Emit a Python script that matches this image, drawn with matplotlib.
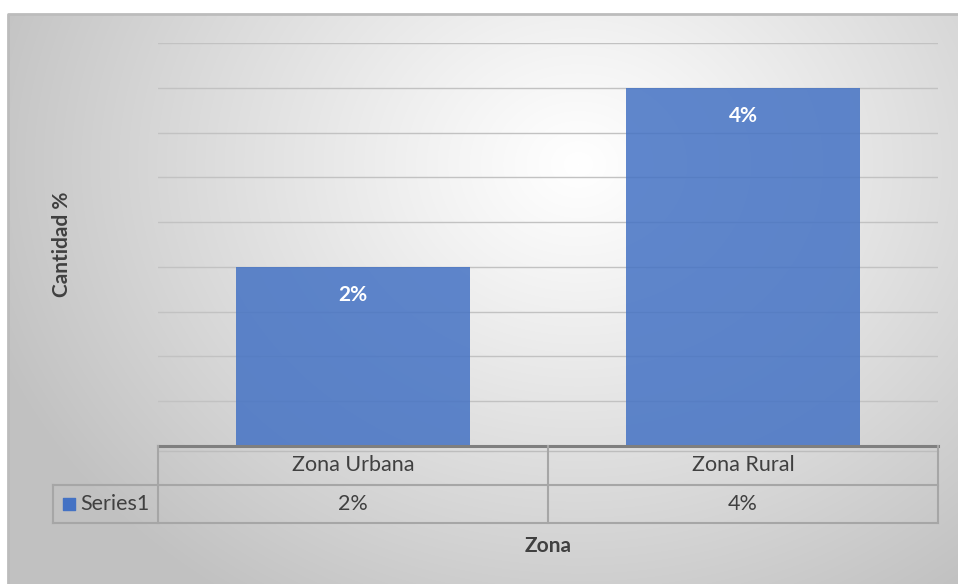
import matplotlib.pyplot as plt
import numpy as np

plt.rcParams['font.family'] = ['Lato', 'DejaVu Sans']

categories = ['Zona Urbana', 'Zona Rural']
values = [2, 4]  # percent
series_name = 'Series1'
bar_color = '#4472C4'

W, H = 958, 584
fig = plt.figure(figsize=(W / 100, H / 100), dpi=100)
fig.patch.set_facecolor('white')


def px(x0, y0, x1, y1):
    # pixel box (top-left origin) -> figure rect
    return [x0 / W, 1 - y1 / H, (x1 - x0) / W, (y1 - y0) / H]


# chart area with radial grey gradient
bg = fig.add_axes(px(8, 14, W, H))
bg.set_axis_off()
yy, xx = np.mgrid[0:H - 14, 0:W - 8]
d = np.sqrt(((xx - 570) / 620.0) ** 2 + ((yy - 150) / 520.0) ** 2)
shade = 1.0 - 0.24 * np.clip(d, 0, 1) ** 1.1
img = np.dstack([shade, shade, shade])
bg.imshow(img, aspect='auto', extent=(0, 1, 0, 1), interpolation='bilinear')
bg.set_xlim(0, 1)
bg.set_ylim(0, 1)
bg.plot([0, 0, 1], [0, 1, 1], color='#bcbcbc', lw=2, transform=bg.transAxes, clip_on=False)

# bar plot
ax = fig.add_axes(px(158, 43, 938, 446))
ax.patch.set_alpha(0)
x = np.arange(len(categories))
ax.set_xlim(-0.5, len(categories) - 0.5)
ax.set_ylim(0, 4.5)
ax.set_yticks(np.arange(0.5, 4.6, 0.5))
ax.yaxis.grid(True, color='#c2c2c2', lw=1)
ax.set_axisbelow(True)
ax.tick_params(left=False, bottom=False, labelleft=False, labelbottom=False)
for s in ax.spines.values():
    s.set_visible(False)
ax.bar(x, values, width=0.6, color=bar_color, alpha=0.85, zorder=2)
for xi, v in zip(x, values):
    ax.annotate(f'{v}%', (xi, v), xytext=(0, -28), textcoords='offset pixels',
                ha='center', va='center', color='white', fontsize=15, fontweight='bold', zorder=3)
ax.set_ylabel('Cantidad %', fontsize=15, fontweight='bold', color='#404040', labelpad=62)

# data table under the axis
tab = fig.add_axes(px(158, 446, 938, 523))
tab.set_axis_off()
tab.set_xlim(-0.5, len(categories) - 0.5)
tab.set_ylim(2, 0)
left = -0.5 - (158 - 53) / 390.0
line = dict(color='#a6a6a6', lw=1.5, clip_on=False)
tab.plot([-0.5, len(categories) - 0.5], [0, 0], color='#7f7f7f', lw=2.2, clip_on=False)
tab.plot([-0.5, len(categories) - 0.5], [0.12, 0.12], color='#bdbdbd', lw=1, clip_on=False)
tab.plot([left, len(categories) - 0.5], [1, 1], **line)
tab.plot([left, len(categories) - 0.5], [2, 2], **line)
tab.plot([left, left], [1, 2], **line)
for xb in np.arange(-0.5, len(categories), 1.0):
    tab.plot([xb, xb], [0, 2], **line)
for xi, cat, v in zip(x, categories, values):
    tab.text(xi, 0.5, cat, ha='center', va='center', fontsize=15.5, color='#404040')
    tab.text(xi, 1.5, f'{v}%', ha='center', va='center', fontsize=15.5, color='#404040')
tab.scatter([left + 0.04], [1.5], marker='s', s=80, color=bar_color, clip_on=False)
tab.text(left + 0.07, 1.5, series_name, ha='left', va='center', fontsize=15.5, color='#404040')
tab.text(0.5, 2.6, 'Zona', ha='center', va='center', fontsize=15, fontweight='bold', color='#404040')

fig.savefig('out.png', dpi=100)
